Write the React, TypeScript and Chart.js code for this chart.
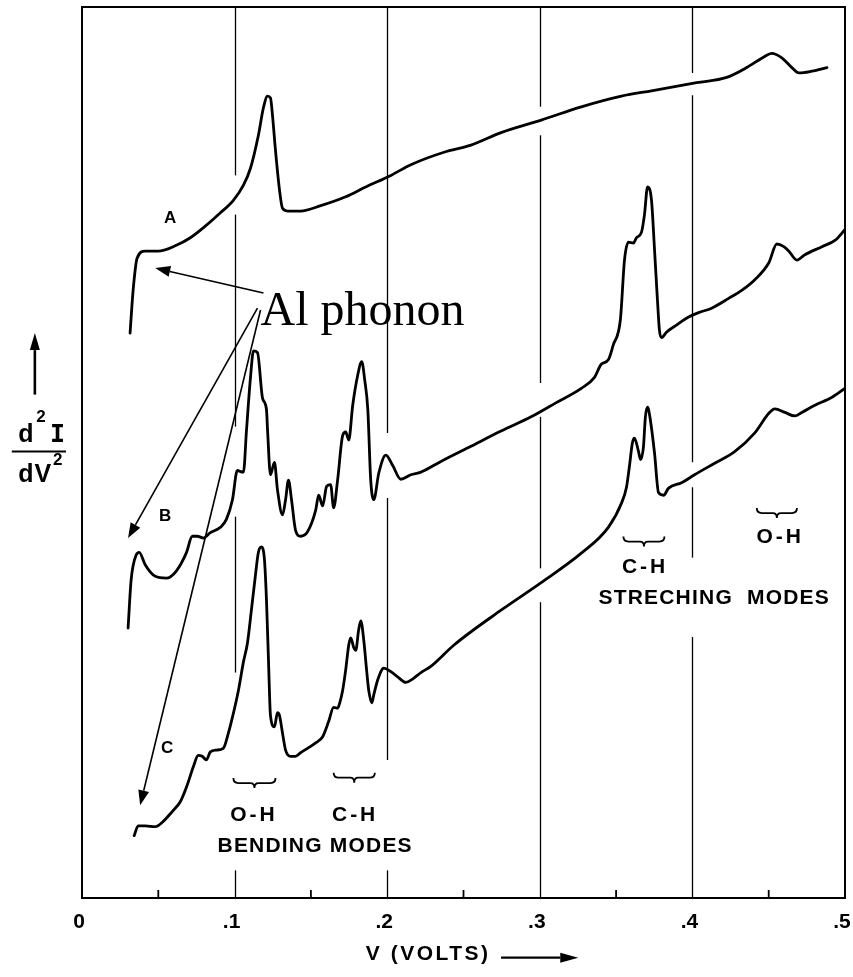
import React, { useEffect, useRef } from 'react';
import { Chart, registerables } from 'chart.js';

Chart.register(...registerables);

// ---- Data (V in volts, d2I/dV2 in arbitrary units, curves offset vertically) ----
const voltsA = [0.0315, 0.0335, 0.0361, 0.0414, 0.0499, 0.0611, 0.0710, 0.0808, 0.0907, 0.0992, 0.1058, 0.1104, 0.1156, 0.1189, 0.1216, 0.1235, 0.1248, 0.1268, 0.1294, 0.1314, 0.1347, 0.1432, 0.1564, 0.1728, 0.1859, 0.2024, 0.2155, 0.2372, 0.2549, 0.2746, 0.3009, 0.3272, 0.3535, 0.3732, 0.4028, 0.4225, 0.4356, 0.4468, 0.4520, 0.4586, 0.4652, 0.4698, 0.4783, 0.4882];
const signalA = [63.4, 68.2, 71.8, 72.6, 72.6, 73.2, 74.1, 75.4, 76.9, 78.3, 80.0, 81.9, 85.6, 88.7, 90.0, 89.8, 87.9, 83.9, 79.5, 77.4, 77.1, 77.1, 77.7, 78.7, 79.8, 81.1, 82.3, 83.7, 84.5, 85.9, 87.3, 88.8, 90.0, 90.6, 91.5, 92.1, 93.2, 94.4, 94.8, 94.3, 93.2, 92.6, 92.8, 93.2];

const voltsB = [0.0302, 0.0322, 0.0355, 0.0375, 0.0414, 0.0480, 0.0552, 0.0618, 0.0683, 0.0723,
  0.0756, 0.0795, 0.0841, 0.0907, 0.0946, 0.0986, 0.1018, 0.1032, 0.1058, 0.1078,
  0.1104, 0.1124, 0.1150, 0.1183, 0.1209, 0.1216, 0.1235, 0.1261, 0.1281, 0.1314,
  0.1334, 0.1353, 0.1373, 0.1399, 0.1432, 0.1478, 0.1531, 0.1551, 0.1577, 0.1603,
  0.1629, 0.1649, 0.1675, 0.1708, 0.1728, 0.1748, 0.1774, 0.1807, 0.1833, 0.1853,
  0.1873, 0.1892, 0.1912, 0.1945, 0.1991, 0.2037, 0.2089, 0.2155, 0.2221, 0.2352,
  0.2549, 0.2746, 0.2943, 0.3108, 0.3272, 0.3357, 0.3403, 0.3449, 0.3482, 0.3528,
  0.3555, 0.3581, 0.3614, 0.3633, 0.3666, 0.3686, 0.3706, 0.3732, 0.3752, 0.3771,
  0.3784, 0.3798, 0.3830, 0.3896, 0.3975, 0.4041, 0.4126, 0.4238, 0.4323, 0.4409,
  0.4501, 0.4553, 0.4599, 0.4632, 0.4685, 0.4737, 0.4849, 0.4934, 0.4999];
const signalB = [30.3, 35.7, 38.5, 38.8, 37.4, 36.1, 35.9, 36.7, 38.7, 40.6,
  40.6, 40.4, 41.0, 41.6, 42.5, 44.7, 48.0, 47.9, 47.8, 52.5,
  58.4, 61.4, 61.2, 56.1, 54.8, 52.5, 47.5, 48.9, 45.8, 43.0,
  44.7, 46.9, 44.7, 41.3, 40.6, 41.1, 43.5, 45.2, 44.0, 46.2,
  46.4, 43.8, 46.9, 51.9, 52.3, 51.4, 55.3, 58.7, 60.2, 58.1,
  54.8, 46.9, 44.7, 47.7, 49.7, 48.5, 47.0, 47.5, 47.8, 49.0,
  50.7, 52.4, 54.0, 55.6, 57.2, 58.4, 59.9, 60.4, 62.1, 64.9,
  71.6, 73.6, 73.5, 74.1, 74.7, 76.7, 79.8, 78.3, 72.7, 67.1,
  63.7, 62.9, 63.5, 64.3, 65.2, 65.7, 66.2, 67.3, 68.2, 69.4,
  71.3, 73.4, 73.1, 72.6, 71.6, 72.2, 73.1, 73.8, 75.0];

const voltsC = [0.0342, 0.0368, 0.0414, 0.0480, 0.0526, 0.0591, 0.0644, 0.0690, 0.0729, 0.0762,
  0.0788, 0.0815, 0.0841, 0.0880, 0.0926, 0.0959, 0.0986, 0.1025, 0.1058, 0.1084,
  0.1110, 0.1137, 0.1156, 0.1176, 0.1196, 0.1209, 0.1222, 0.1235, 0.1261, 0.1281,
  0.1294, 0.1314, 0.1334, 0.1367, 0.1399, 0.1432, 0.1478, 0.1531, 0.1577, 0.1616,
  0.1649, 0.1675, 0.1689, 0.1708, 0.1728, 0.1748, 0.1761, 0.1781, 0.1794, 0.1813,
  0.1827, 0.1846, 0.1866, 0.1879, 0.1899, 0.1912, 0.1938, 0.1978, 0.2024, 0.2070,
  0.2122, 0.2168, 0.2221, 0.2286, 0.2438, 0.2746, 0.3009, 0.3272, 0.3449, 0.3535,
  0.3568, 0.3587, 0.3607, 0.3620, 0.3647, 0.3660, 0.3679, 0.3692, 0.3706, 0.3725,
  0.3752, 0.3778, 0.3811, 0.3844, 0.3929, 0.4014, 0.4146, 0.4277, 0.4409, 0.4501,
  0.4540, 0.4606, 0.4671, 0.4717, 0.4803, 0.4915, 0.4999];
const signalC = [7.0, 8.1, 8.1, 8.0, 8.5, 9.7, 10.8, 12.7, 14.7, 16.0,
  15.9, 15.5, 16.4, 16.6, 16.8, 18.5, 20.3, 23.3, 26.5, 28.6,
  32.3, 36.3, 38.8, 39.4, 37.9, 33.4, 26.7, 20.5, 19.2, 20.8,
  20.5, 18.5, 16.6, 15.9, 15.9, 16.3, 16.8, 17.4, 18.1, 19.8,
  21.4, 21.3, 21.9, 23.3, 25.6, 28.4, 29.2, 28.1, 27.8, 30.1,
  31.1, 29.0, 25.4, 23.3, 21.9, 22.8, 24.5, 25.8, 25.4, 24.8,
  24.2, 24.6, 25.3, 26.0, 28.4, 32.3, 35.4, 38.7, 41.6, 44.3,
  46.1, 48.4, 51.1, 51.6, 50.1, 49.2, 50.6, 54.0, 55.1, 53.6,
  49.9, 45.5, 45.2, 46.0, 46.6, 47.5, 48.8, 50.1, 52.2, 54.4,
  54.9, 54.5, 54.1, 54.5, 55.3, 56.2, 57.2];

const majorTickValues = [0, 0.1, 0.2, 0.3, 0.4, 0.5];
const majorTickLabels = ['0', '.1', '.2', '.3', '.4', '.5'];
const minorTickValues = [0.05, 0.15, 0.25, 0.35, 0.45];
const gridValues = [0.1, 0.2, 0.3, 0.4];
// visible stretches (in signal units) of each interrupted vertical grid line
const gridVisibleRuns = [
  [[81.1, 100], [52.9, 76.7], [25.3, 42.8], [0, 3.1]],
  [[52.2, 100], [15.5, 44.9], [0, 3.1]],
  [[88.8, 100], [57.8, 85.6], [37.0, 54.0], [0, 33.2]],
  [[92.6, 100], [48.9, 90.1], [38.2, 46.1], [0, 29.3]],
];

const curveNames = ['A', 'B', 'C'];

// ---- Annotations (positions in data coordinates) ----
const LEROY = '"Liberation Sans", Arial, sans-serif';

const textNotes = [
  { text: 'A', x: 0.0578, y: 76.3, font: `bold 17px ${LEROY}`, align: 'center', spacing: 0 },
  { text: 'B', x: 0.0545, y: 42.8, font: `bold 17px ${LEROY}`, align: 'center', spacing: 0 },
  { text: 'C', x: 0.0558, y: 16.8, font: `bold 17px ${LEROY}`, align: 'center', spacing: 0 },
  { text: 'O-H', x: 0.1117, y: 9.3, font: `bold 21px ${LEROY}`, align: 'center', spacing: 3 },
  { text: 'C-H', x: 0.1780, y: 9.3, font: `bold 21px ${LEROY}`, align: 'center', spacing: 3 },
  { text: 'BENDING MODES', x: 0.1524, y: 5.8, font: `bold 21px ${LEROY}`, align: 'center', spacing: 1.2 },
  { text: 'C-H', x: 0.3680, y: 37.1, font: `bold 21px ${LEROY}`, align: 'center', spacing: 3 },
  { text: 'STRECHING  MODES', x: 0.4139, y: 33.7, font: `bold 21px ${LEROY}`, align: 'center', spacing: 1.2 },
  { text: 'O-H', x: 0.4566, y: 40.5, font: `bold 21px ${LEROY}`, align: 'center', spacing: 3 },
];

const braceNotes = [
  { x1: 0.0992, x2: 0.1268, y: 12.9 },
  { x1: 0.1649, x2: 0.1919, y: 13.5 },
  { x1: 0.3548, x2: 0.3817, y: 40.0 },
  { x1: 0.4422, x2: 0.4685, y: 43.2 },
];

const phononLabel = { text: 'Al phonon', x: 0.1170, y: 64.3 };
const phononArrows = [
  { x1: 0.1189, y1: 67.9, x2: 0.0480, y2: 70.7 },
  { x1: 0.1150, y1: 66.2, x2: 0.0302, y2: 40.4 },
  { x1: 0.1170, y1: 66.0, x2: 0.0381, y2: 10.4 },
];

function drawArrow(ctx: CanvasRenderingContext2D, x1: number, y1: number, x2: number, y2: number, len: number, half: number, lw: number) {
  const ang = Math.atan2(y2 - y1, x2 - x1);
  const bx = x2 - Math.cos(ang) * len;
  const by = y2 - Math.sin(ang) * len;
  ctx.lineWidth = lw;
  ctx.beginPath();
  ctx.moveTo(x1, y1);
  ctx.lineTo(bx, by);
  ctx.stroke();
  ctx.beginPath();
  ctx.moveTo(x2, y2);
  ctx.lineTo(bx + Math.sin(ang) * half, by - Math.cos(ang) * half);
  ctx.lineTo(bx - Math.sin(ang) * half, by + Math.cos(ang) * half);
  ctx.closePath();
  ctx.fill();
}

function drawBrace(ctx: CanvasRenderingContext2D, x1: number, x2: number, y: number) {
  const xm = (x1 + x2) / 2;
  ctx.lineWidth = 1.8;
  ctx.beginPath();
  ctx.moveTo(x1, y - 5);
  ctx.quadraticCurveTo(x1, y, x1 + 5, y);
  ctx.lineTo(xm - 4, y);
  ctx.quadraticCurveTo(xm, y, xm, y + 5);
  ctx.quadraticCurveTo(xm, y, xm + 4, y);
  ctx.lineTo(x2 - 5, y);
  ctx.quadraticCurveTo(x2, y, x2, y - 5);
  ctx.stroke();
}

const gridPlugin = {
  id: 'brokenGrid',
  beforeDatasetsDraw(chart: any) {
    const ctx: CanvasRenderingContext2D = chart.ctx;
    const X = (v: number) => chart.scales.x.getPixelForValue(v);
    const Y = (v: number) => chart.scales.y.getPixelForValue(v);
    ctx.save();
    ctx.strokeStyle = '#000';
    ctx.lineWidth = 1.3;
    gridValues.forEach((g, i) => {
      const px = Math.round(X(g)) + 0.5;
      for (const [lo, hi] of gridVisibleRuns[i]) {
        ctx.beginPath();
        ctx.moveTo(px, Y(hi));
        ctx.lineTo(px, Y(lo));
        ctx.stroke();
      }
    });
    ctx.restore();
  },
};

const annotationPlugin = {
  id: 'figureAnnotations',
  afterDraw(chart: any) {
    const ctx: CanvasRenderingContext2D = chart.ctx;
    const xs = chart.scales.x;
    const ys = chart.scales.y;
    const X = (v: number) => xs.getPixelForValue(v);
    const Y = (v: number) => ys.getPixelForValue(v);
    const { left, right, top, bottom } = chart.chartArea;
    ctx.save();
    ctx.strokeStyle = '#000';
    ctx.fillStyle = '#000';

    // frame
    ctx.lineWidth = 2;
    ctx.strokeRect(left, top, right - left, bottom - top);

    // minor inward ticks
    ctx.lineWidth = 1.8;
    for (const v of minorTickValues) {
      ctx.beginPath();
      ctx.moveTo(X(v), bottom);
      ctx.lineTo(X(v), bottom - 8);
      ctx.stroke();
    }

    // texts
    ctx.textBaseline = 'middle';
    for (const t of textNotes) {
      ctx.font = t.font;
      (ctx as any).letterSpacing = `${t.spacing}px`;
      ctx.textAlign = t.align as CanvasTextAlign;
      ctx.fillText(t.text, X(t.x) + t.spacing / 2, Y(t.y));
    }
    (ctx as any).letterSpacing = '0px';

    for (const b of braceNotes) drawBrace(ctx, X(b.x1), X(b.x2), Y(b.y));

    // Al phonon label and arrows
    ctx.font = '48px "Liberation Serif", "Times New Roman", serif';
    ctx.textAlign = 'left';
    ctx.textBaseline = 'alphabetic';
    ctx.fillText(phononLabel.text, X(phononLabel.x), Y(phononLabel.y));
    for (const a of phononArrows) drawArrow(ctx, X(a.x1), Y(a.y1), X(a.x2), Y(a.y2), 15, 5.5, 1.6);

    // y-axis label: arrow + d2I / dV2
    const yx = X(-0.0309);
    drawArrow(ctx, yx, Y(56.5), yx, Y(63.4), 17, 5, 2.6);
    ctx.textAlign = 'left';
    ctx.textBaseline = 'alphabetic';
    ctx.font = `bold 25px ${LEROY}`;
    ctx.fillText('d', X(-0.0418), Y(51.2));
    ctx.font = `bold 17px ${LEROY}`;
    ctx.fillText('2', X(-0.0299), Y(53.4));
    ctx.font = 'bold 25px "DejaVu Sans Mono", monospace';
    ctx.fillText('I', X(-0.0210), Y(51.2));
    ctx.lineWidth = 2;
    ctx.beginPath();
    ctx.moveTo(X(-0.0460), Y(50.1));
    ctx.lineTo(X(-0.0105), Y(50.1));
    ctx.stroke();
    ctx.font = `bold 25px ${LEROY}`;
    ctx.fillText('d', X(-0.0418), Y(46.7));
    ctx.fillText('V', X(-0.0312), Y(46.7));
    ctx.font = `bold 17px ${LEROY}`;
    ctx.fillText('2', X(-0.0190), Y(48.6));

    // x-axis title with arrow
    ctx.font = `bold 21px ${LEROY}`;
    (ctx as any).letterSpacing = '2.5px';
    ctx.textAlign = 'left';
    ctx.textBaseline = 'alphabetic';
    ctx.fillText('V (VOLTS)', X(0.1860), Y(-6.95));
    (ctx as any).letterSpacing = '0px';
    drawArrow(ctx, X(0.2746), Y(-6.7), X(0.3252), Y(-6.7), 18, 5, 2.2);

    ctx.restore();
  },
};

export default function App() {
  const canvasRef = useRef<HTMLCanvasElement | null>(null);

  useEffect(() => {
    const canvas = canvasRef.current;
    if (!canvas) return;
    const series = [
      [voltsA, signalA],
      [voltsB, signalB],
      [voltsC, signalC],
    ];
    const chart = new Chart(canvas, {
      type: 'line',
      data: {
        datasets: series.map(([vx, vy], i) => ({
          label: curveNames[i],
          data: vx.map((v, k) => ({ x: v, y: vy[k] })),
          borderColor: '#000',
          borderWidth: 2.8,
          pointRadius: 0,
          fill: false,
          cubicInterpolationMode: 'monotone' as const,
          borderCapStyle: 'round' as const,
          borderJoinStyle: 'round' as const,
        })),
      },
      options: {
        responsive: false,
        animation: false,
        layout: { padding: { left: 82, right: 8, top: 7, bottom: 0 } },
        plugins: { legend: { display: false }, tooltip: { enabled: false } },
        scales: {
          x: {
            type: 'linear',
            min: 0,
            max: 0.5,
            afterFit: (s: any) => { s.height = 79; s.paddingLeft = 0; s.paddingRight = 0; },
            afterBuildTicks: (s: any) => { s.ticks = majorTickValues.map((v) => ({ value: v })); },
            ticks: {
              autoSkip: false,
              maxRotation: 0,
              padding: 12,
              labelOffset: -3,
              color: '#000',
              font: { family: 'Liberation Sans', size: 21, weight: 'bold' },
              callback: (value: any) => {
                const idx = majorTickValues.findIndex((m) => Math.abs(m - Number(value)) < 1e-6);
                return idx >= 0 ? majorTickLabels[idx] : '';
              },
            },
            grid: { display: false, drawTicks: false },
            border: { display: false },
          },
          y: { display: false, min: 0, max: 100 },
        },
      },
      plugins: [gridPlugin, annotationPlugin],
    } as any);
    return () => chart.destroy();
  }, []);

  return (
    <div style={{ position: 'absolute', left: 0, top: 0, width: 853, height: 977, background: '#fff' }}>
      <canvas ref={canvasRef} width={853} height={977} />
    </div>
  );
}
